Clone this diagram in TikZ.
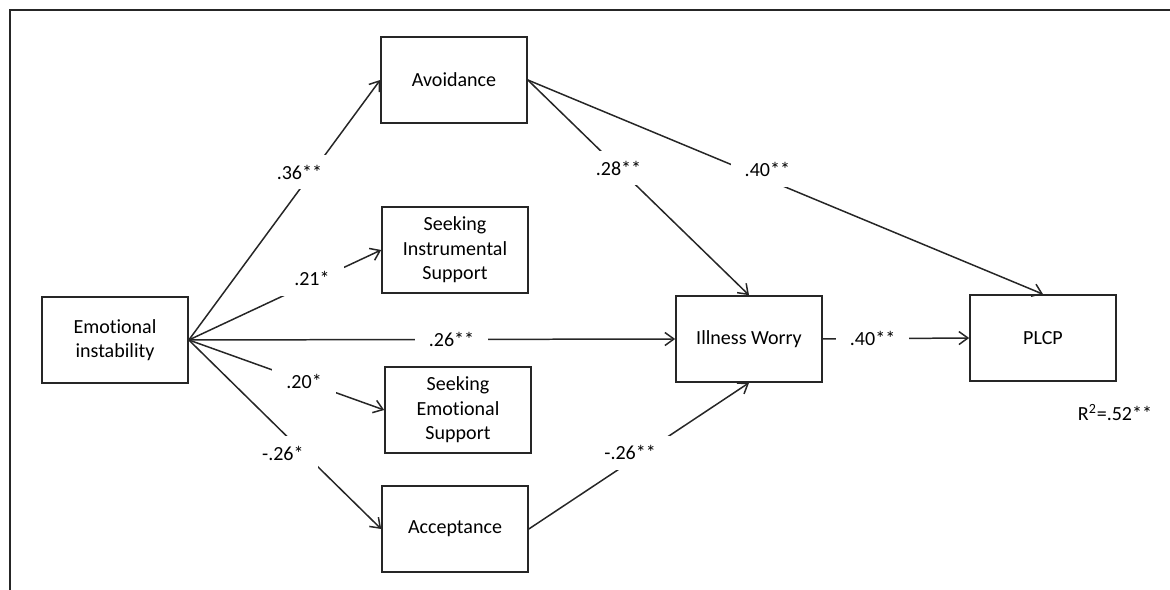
\documentclass[tikz,border=0pt]{standalone}
\usepackage{fontspec}
\setmainfont{Carlito}[Ligatures=NoCommon]
\usetikzlibrary{arrows.meta}
\tikzset{
  patharrow/.style={-{Straight Barb[length=1.8mm,width=2.6mm]}, line width=0.85pt,
    draw=black!85, line cap=round},
  coeflabel/.style={fill=white, inner xsep=0.28cm, inner ysep=0.2cm}
}

\begin{document}
\begin{tikzpicture}[
  x=0.02cm, y=-0.02cm,
  font=\fontsize{11.4}{14}\selectfont,
  box/.style={draw=black!85, line width=0.95pt, align=center, minimum width=2.92cm, minimum height=1.72cm, inner sep=2pt}
]
\useasboundingbox (0,0) rectangle (1170,590);
% frame of the figure
\draw[black!85, line width=0.7pt] (10,590) -- (10,10) -- (1170,10);

\node[box] at (115,340) (instab) {Emotional\\instability};
\node[box] at (454,80) (avoid) {Avoidance};
\node[box] at (455,250) (instr) {Seeking\\Instrumental\\Support};
\node[box] at (458,410) (emosup) {Seeking\\Emotional\\Support};
\node[box] at (455,529) (accept) {Acceptance};
\node[box] at (749,339) (worry) {Illness Worry};
\node[box] at (1043,338) (plcp) {PLCP};
\node at (1115,413) (rsq) {R\textsuperscript{2}=.52**};

\draw[patharrow] (instab.east) -- node[coeflabel, pos=0.646, xshift=-0.26cm]{.36**} (avoid.west);
\draw[patharrow] (instab.east) -- node[coeflabel, pos=0.64, yshift=0.08cm]{.21*} (instr.west);
\draw[patharrow] (instab.east) -- node[coeflabel, pos=0.54]{.26**} (worry.west);
\draw[patharrow] (instab.east) -- node[coeflabel, pos=0.59]{.20*} (emosup.west);
\draw[patharrow] (instab.east) -- node[coeflabel, pos=0.598, xshift=-0.42cm]{-.26*} (accept.west);
\draw[patharrow] (avoid.east) -- node[coeflabel, pos=0.41]{.28**} (worry.north);
\draw[patharrow] (avoid.east) -- node[coeflabel, pos=0.465, yshift=0.2cm]{.40**} (plcp.north);
\draw[patharrow] (accept.east) -- node[coeflabel, pos=0.46, yshift=0.18cm]{-.26**} (worry.south);
\draw[patharrow] (worry.east) -- node[coeflabel, pos=0.34]{.40**} (plcp.west);
\end{tikzpicture}
\end{document}
